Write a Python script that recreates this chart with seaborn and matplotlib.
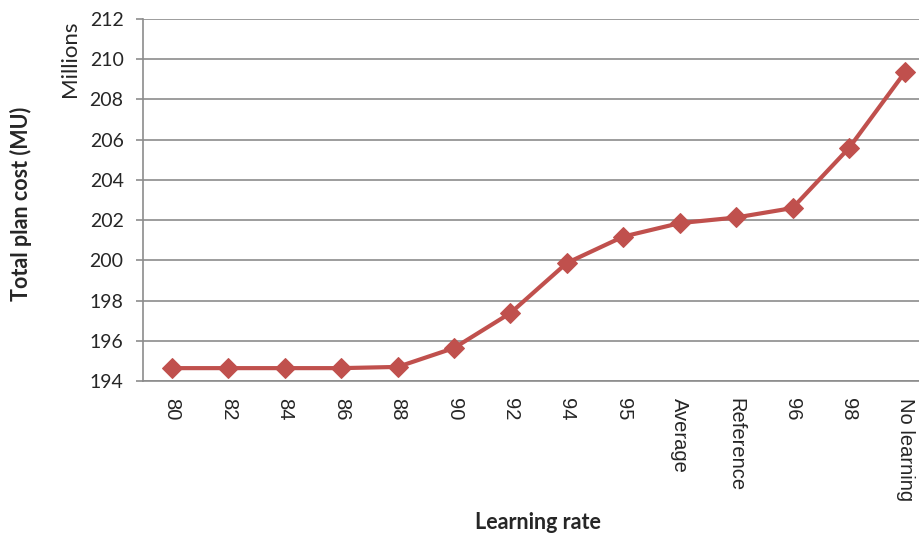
import matplotlib
matplotlib.use("Agg")
import matplotlib.pyplot as plt
import seaborn as sns
import pandas as pd

# Learning-rate scenarios and the resulting total plan cost (millions of MU)
learning_rates = ["80", "82", "84", "86", "88", "90", "92", "94", "95",
                  "Average", "Reference", "96", "98", "No learning"]
total_cost = [194.64, 194.64, 194.64, 194.64, 194.70, 195.64, 197.38,
              199.87, 201.18, 201.85, 202.13, 202.60, 205.58, 209.38]
y_ticks = [194, 196, 198, 200, 202, 204, 206, 208, 210, 212]

df = pd.DataFrame({"rate": learning_rates, "cost": total_cost})
df["pos"] = range(len(df))

sns.set_style("white")
plt.rcParams["font.family"] = ["Liberation Sans", "DejaVu Sans"]

fig = plt.figure(figsize=(9.2, 5.34), dpi=100)
ax = fig.add_axes([143 / 920, 1 - 381 / 534, (920 - 143) / 920, (381 - 19) / 534])

line_color = "#C0504D"
sns.lineplot(data=df, x="pos", y="cost", ax=ax, color=line_color, linewidth=3,
             marker="D", markersize=10.5, markeredgecolor=line_color,
             markerfacecolor=line_color, zorder=3)

ax.set_xlim(-0.514, 13.26)
ax.set_ylim(194, 212)
ax.set_yticks(y_ticks)
ax.set_yticklabels([str(t) for t in y_ticks], fontsize=14, family="Lato")
ax.set_xticks(df["pos"])
ax.set_xticklabels(learning_rates, rotation=-90, fontsize=14.5, va="top", ha="center")

grid_color = "#8C8C8C"
ax.yaxis.grid(True, color=grid_color, linewidth=1.2)
ax.xaxis.grid(False)
for side in ["top", "right"]:
    ax.spines[side].set_visible(False)
for side in ["left", "bottom"]:
    ax.spines[side].set_color(grid_color)
    ax.spines[side].set_linewidth(1.2)

ax.tick_params(axis="y", which="major", length=5, color=grid_color, width=1.2,
               left=True, pad=9)
ax.tick_params(axis="x", which="major", length=0, pad=12)

ax.set_xlabel("Learning rate", fontsize=15.5, fontweight="bold", family="Lato")
ax.xaxis.set_label_coords((538 - 143) / 777, -(512 - 381) / 362)
ax.set_ylabel("Total plan cost (MU)", fontsize=15.5, fontweight="bold", family="Lato")
ax.yaxis.set_label_coords(-(143 - 32) / 777, 0.49)

fig.text(70 / 920, 1 - 59 / 534, "Millions", rotation=90, fontsize=16,
         family="Lato", ha="center", va="center")

fig.savefig("out.png", dpi=100)
